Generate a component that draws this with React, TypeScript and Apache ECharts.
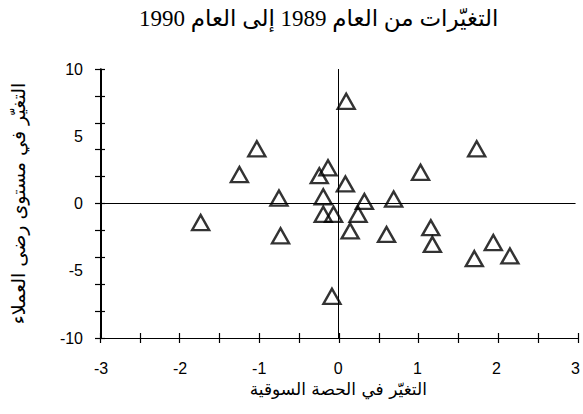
import React, { useEffect, useRef } from "react";
import * as echarts from "echarts";

const titleText = "التغيّرات من العام 1989 إلى العام 1990";
const xAxisTitle = "التغيّر في الحصة السوقية";
const yAxisTitle = "التغيّر في مستوى رضى العملاء";

const marketShareChange = [0.10, -1.03, -1.25, -0.75, -1.74, -0.73, -0.24, -0.13, -0.19, -0.19, -0.06, 0.09, 1.75, 1.04, 0.70, 0.33, 0.25, 0.15, 0.61, 1.17, 1.19, 1.96, 1.72, 2.17, -0.08];
const satisfactionChange = [7.6, 4.07, 2.15, 0.4, -1.42, -2.4, 2.07, 2.65, 0.5, -0.8, -0.8, 1.45, 4.07, 2.32, 0.33, 0.15, -0.8, -2.04, -2.3, -1.8, -3.04, -2.9, -4.1, -3.9, -6.9];

const xRange = [-3, 3];
const yRange = [-10, 10];
const xLabelStep = 1;
const xTickStep = 0.5;
const yLabelStep = 5;
const yTickStep = 2;

export default function App() {
  const ref = useRef<HTMLDivElement>(null);
  useEffect(() => {
    if (!ref.current) return;
    const chart = echarts.init(ref.current, null, { renderer: "svg" });
    const points = marketShareChange.map((x, i) => [x, satisfactionChange[i]]);
    const lineStyle = { color: "#000", width: 1 };
    const font = "Liberation Sans, Arial, sans-serif";
    const arabicFont = "DejaVu Sans, sans-serif";
    const hiddenLabel = { show: false };
    const gridBox = { left: 100, right: 5, top: 69, bottom: 76, containLabel: false };

    const tickX = (gridIndex: number, inside: boolean) => ({
      type: "value",
      gridIndex,
      min: xRange[0],
      max: xRange[1],
      interval: xTickStep,
      splitLine: { show: false },
      axisLine: { show: true, onZero: false, lineStyle },
      axisTick: { show: true, inside, length: 5, lineStyle: { color: "#000", width: 1.2 } },
      axisLabel: hiddenLabel,
    });
    const tickY = (gridIndex: number, inside: boolean) => ({
      type: "value",
      gridIndex,
      min: yRange[0],
      max: yRange[1],
      interval: yTickStep,
      splitLine: { show: false },
      axisLine: { show: true, onZero: false, lineStyle },
      axisTick: { show: true, inside, length: 5, lineStyle: { color: "#000", width: 1.2 } },
      axisLabel: hiddenLabel,
    });

    chart.setOption({
      animation: false,
      backgroundColor: "#fff",
      title: {
        text: titleText,
        left: 134,
        top: 2,
        textStyle: {
          fontFamily: "Liberation Serif, DejaVu Sans, serif",
          fontSize: 23,
          fontWeight: "normal",
          color: "#000",
        },
      },
      grid: [gridBox, gridBox, gridBox],
      xAxis: [
        {
          type: "value",
          gridIndex: 0,
          min: xRange[0],
          max: xRange[1],
          interval: xLabelStep,
          splitLine: { show: false },
          axisLine: { show: true, onZero: false, lineStyle },
          axisTick: { show: false },
          axisLabel: { margin: 22, color: "#000", fontSize: 16, fontFamily: font },
          name: xAxisTitle,
          nameLocation: "middle",
          nameGap: 42,
          nameTextStyle: { fontFamily: arabicFont, fontSize: 17, color: "#000" },
        },
        tickX(1, false),
        tickX(2, true),
      ],
      yAxis: [
        {
          type: "value",
          gridIndex: 0,
          min: yRange[0],
          max: yRange[1],
          interval: yLabelStep,
          splitLine: { show: false },
          axisLine: { show: true, onZero: false, lineStyle },
          axisTick: { show: false },
          axisLabel: { margin: 18, color: "#000", fontSize: 16, fontFamily: font },
          name: yAxisTitle,
          nameLocation: "middle",
          nameGap: 74,
          nameRotate: 90,
          nameTextStyle: { fontFamily: arabicFont, fontSize: 19, color: "#000" },
        },
        tickY(1, false),
        tickY(2, true),
      ],
      series: [
        {
          type: "scatter",
          xAxisIndex: 0,
          yAxisIndex: 0,
          data: points,
          symbol: "triangle",
          symbolSize: [17, 15],
          itemStyle: { color: "rgba(255,255,255,0)", borderColor: "#000", borderWidth: 2.4 },
          markLine: {
            silent: true,
            symbol: ["none", "none"],
            label: { show: false },
            lineStyle: { color: "#000", width: 1, type: "solid" },
            data: [{ xAxis: 0 }, { yAxis: 0 }],
          },
          z: 3,
        },
        {
          type: "scatter",
          xAxisIndex: 1,
          yAxisIndex: 1,
          data: [],
          silent: true,
        },
        {
          type: "scatter",
          xAxisIndex: 2,
          yAxisIndex: 2,
          data: [],
          silent: true,
        },
      ],
    });
    return () => chart.dispose();
  }, []);
  return (
    <div
      ref={ref}
      style={{ position: "fixed", left: 0, top: 0, width: 583, height: 414, background: "#fff" }}
    />
  );
}
